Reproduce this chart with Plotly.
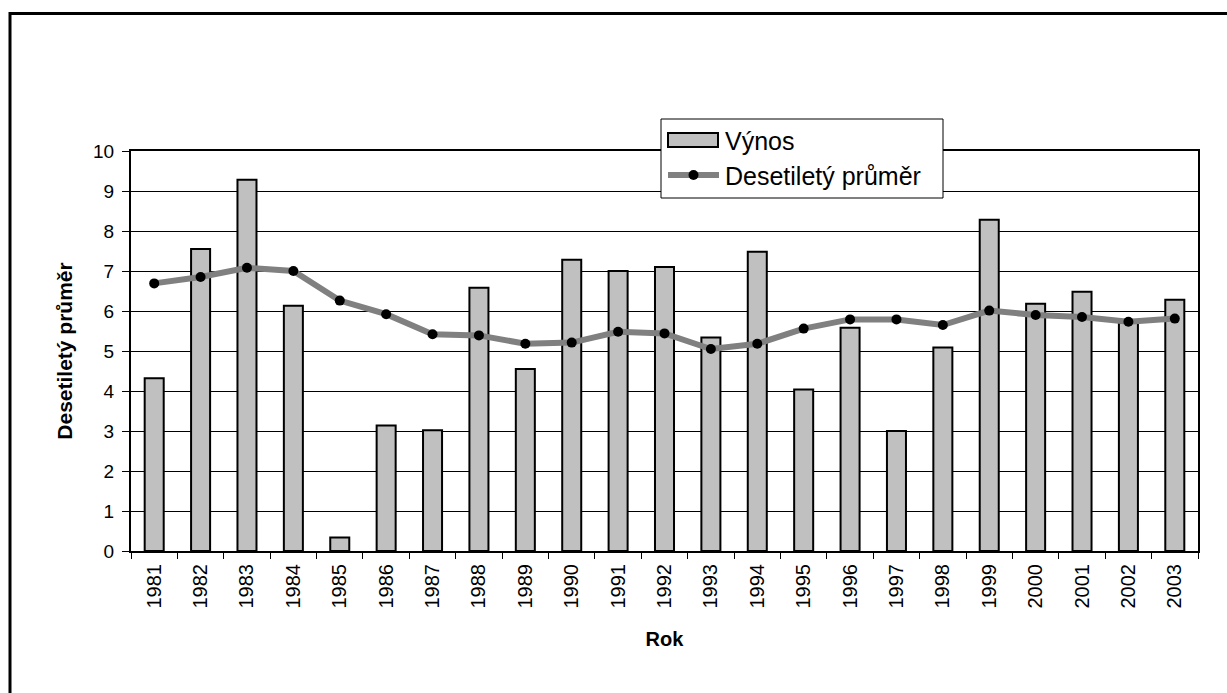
import plotly.graph_objects as go

years = [str(y) for y in range(1981, 2004)]
vynos = [4.32, 7.55, 9.28, 6.13, 0.34, 3.14, 3.02, 6.58, 4.55, 7.28, 7.0, 7.1,
         5.34, 7.48, 4.04, 5.58, 3.0, 5.09, 8.28, 6.18, 6.48, 5.7, 6.28]
prumer = [6.69, 6.85, 7.08, 7.0, 6.26, 5.92, 5.42, 5.39, 5.18, 5.21, 5.48, 5.44,
          5.05, 5.18, 5.56, 5.79, 5.79, 5.65, 6.01, 5.9, 5.85, 5.73, 5.81]
legend_labels = ["Výnos", "Desetiletý průměr"]

W, H = 1227, 693
L, R, T, B = 131, 1198, 151, 551
pw, ph = R - L, B - T

BAR_FILL = "#c0c0c0"
LINE_COL = "#808080"


def px(x):
    return (x - L) / pw


def py(y):
    return (B - y) / ph


fig = go.Figure()
fig.add_trace(go.Bar(
    x=years, y=vynos, name=legend_labels[0],
    marker=dict(color=BAR_FILL, line=dict(color="black", width=2)),
))
fig.add_trace(go.Scatter(
    x=years, y=prumer, name=legend_labels[1], mode="lines+markers",
    line=dict(color=LINE_COL, width=6),
    marker=dict(color="black", size=10),
))

font = "Arial, Liberation Sans, sans-serif"

shapes = [
    # outer chart frame (left and top edges visible)
    dict(type="line", xref="paper", yref="paper", x0=px(10), x1=px(1240),
         y0=py(13.5), y1=py(13.5), line=dict(color="black", width=3)),
    dict(type="line", xref="paper", yref="paper", x0=px(10), x1=px(10),
         y0=py(12), y1=py(710), line=dict(color="black", width=3)),
    # legend box
    dict(type="rect", xref="paper", yref="paper", x0=px(661), x1=px(943),
         y0=py(198), y1=py(119), fillcolor="white", line=dict(color="black", width=1),
         layer="above"),
    # bar swatch
    dict(type="rect", xref="paper", yref="paper", x0=px(668), x1=px(718),
         y0=py(147), y1=py(133), fillcolor=BAR_FILL, line=dict(color="black", width=2),
         layer="above"),
    # line swatch
    dict(type="line", xref="paper", yref="paper", x0=px(668), x1=px(719),
         y0=py(175), y1=py(175), line=dict(color=LINE_COL, width=6),
         layer="above"),
    dict(type="circle", xref="paper", yref="paper", x0=px(688.5), x1=px(698.5),
         y0=py(180), y1=py(170), fillcolor="black", line=dict(color="black", width=0),
         layer="above"),
]

annotations = [
    dict(text=legend_labels[0], xref="paper", yref="paper", x=px(723), y=py(141),
         xanchor="left", yanchor="middle", showarrow=False,
         font=dict(size=25, family=font, color="black")),
    dict(text=legend_labels[1], xref="paper", yref="paper", x=px(723), y=py(176),
         xanchor="left", yanchor="middle", showarrow=False,
         font=dict(size=25, family=font, color="black")),
]

fig.update_layout(
    width=W, height=H,
    margin=dict(l=L, r=W - R, t=T, b=H - B, autoexpand=False),
    paper_bgcolor="white", plot_bgcolor="white",
    bargap=0.59,
    font=dict(family=font, color="black", size=19),
    showlegend=False,
    xaxis=dict(
        type="category", range=[-0.5, len(years) - 0.5],
        showline=True, linecolor="black", linewidth=2, mirror=True,
        ticks="outside", ticklen=6, tickcolor="black", tickwidth=1,
        tickson="boundaries", tickangle=-90, ticklabelstandoff=3,
        tickfont=dict(size=20),
        title=dict(text="<b>Rok</b>", font=dict(size=20), standoff=24),
        showgrid=False,
    ),
    yaxis=dict(
        range=[0, 10], dtick=1, showline=True, linecolor="black", linewidth=2, mirror=True,
        ticks="outside", ticklen=7, tickcolor="black", tickwidth=1,
        ticklabelstandoff=4,
        showgrid=True, gridcolor="black", gridwidth=1,
        tickfont=dict(size=19),
        zeroline=False,
        title=dict(text="<b>Desetiletý průměr</b>", font=dict(size=21), standoff=15),
    ),
    shapes=shapes,
    annotations=annotations,
)

fig.write_html("out.html", config={"displayModeBar": False},
               post_script="document.body.style.margin='0px';")
